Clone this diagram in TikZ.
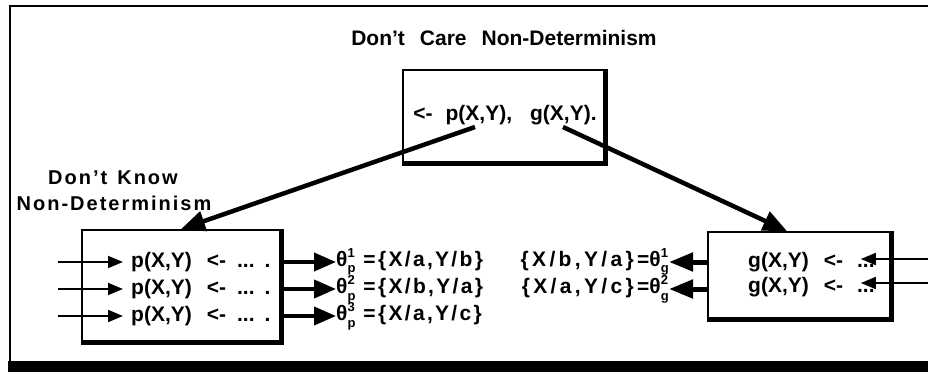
\documentclass[tikz,border=0pt]{standalone}
\usepackage{fontspec}
\setmainfont{Liberation Sans}
\usetikzlibrary{arrows.meta}
\newcommand{\thx}[2]{θ\makebox[0pt][l]{\raisebox{0.45em}{\fontsize{13}{13}\selectfont #1}}\raisebox{-0.3em}{\fontsize{13}{13}\selectfont #2}\hspace{1pt}}
\newcommand{\spc}[1]{{\addfontfeatures{LetterSpace=#1}}}
\begin{document}
\begin{tikzpicture}[x=1pt,y=-1pt,
 lab/.style={inner sep=0pt, font=\fontsize{20}{23}\selectfont\bfseries\addfontfeatures{LetterSpace=10}},
 ttl/.style={inner sep=0pt, font=\fontsize{21}{24}\selectfont\bfseries},
 code/.style={inner sep=0pt, font=\fontsize{21}{24}\selectfont\bfseries},
 box/.style={draw, line width=1.8pt, inner sep=0pt},
 shade/.style={line width=3.8pt},
 thinar/.style={line width=1.8pt, -{Triangle[length=15pt,width=12pt]}},
 midar/.style={line width=4pt, -{Triangle[length=22pt,width=18pt]}},
 bigar/.style={line width=5pt, -{Triangle[length=24pt,width=18pt]}},
 diagar/.style={line width=4.5pt, -{Triangle[length=24pt,width=20pt]}}
]
\useasboundingbox (0,0) rectangle (928,379);
% outer frame
\draw[line width=1.8pt] (928,6) -- (10,6) -- (10,366);
\fill (8,361) rectangle (928,372);

% title and labels
\node[ttl] (title) at (504,38) {Don't\hspace{15pt}Care\hspace{15pt}Non-Determinism};
\node[lab] (dk1) at (113,178) {Don't\hspace{10pt}Know};
\node[lab] (dk2) at (114,203) {Non-Determinism};

% top box
\node[box, minimum width=201pt, minimum height=92pt] (top) at (503.5,116) {};
\draw[shade] ([xshift=1.2pt]top.north east) -- ([xshift=1.2pt,yshift=-1.2pt]top.south east) -- ([yshift=-1.2pt]top.south west);
\node[code] (goal) at (505,115) {<-\hspace{13pt}p(X,Y),\hspace{18pt}g(X,Y).};
\coordinate (ps) at (475,127);
\coordinate (gs) at (563,127);

% left box
\node[box, minimum width=198pt, minimum height=111pt] (lbox) at (181,285.5) {};
\draw[shade] ([xshift=1.2pt]lbox.north east) -- ([xshift=1.2pt,yshift=-1.2pt]lbox.south east) -- ([yshift=-1.2pt]lbox.south west);
\node[code, anchor=west] (pr1) at (131,262) {p(X,Y)\hspace{15pt}<-\hspace{11pt}...\hspace{10pt}.};
\node[code, anchor=west] (pr2) at (131,289) {p(X,Y)\hspace{15pt}<-\hspace{11pt}...\hspace{10pt}.};
\node[code, anchor=west] (pr3) at (131,316) {p(X,Y)\hspace{15pt}<-\hspace{11pt}...\hspace{10pt}.};
\coordinate (in1) at (58,262);
\coordinate (in2) at (58,289);
\coordinate (in3) at (58,316);
\draw[thinar, shorten >=8pt] (in1) -- (pr1.west);
\draw[thinar, shorten >=8pt] (in2) -- (pr2.west);
\draw[thinar, shorten >=8pt] (in3) -- (pr3.west);

\node[code, anchor=west] (tp1) at (336,262) {\thx{1}{p}\hspace{7pt}{\addfontfeatures{LetterSpace=11}=\{X/a,Y/b\}}};
\node[code, anchor=west] (tp2) at (336,289) {\thx{2}{p}\hspace{7pt}{\addfontfeatures{LetterSpace=11}=\{X/b,Y/a\}}};
\node[code, anchor=west] (tp3) at (336,316) {\thx{3}{p}\hspace{7pt}{\addfontfeatures{LetterSpace=11}=\{X/a,Y/c\}}};
\draw[midar] (lbox.east |- tp1.west) -- (tp1.west);
\draw[midar] (lbox.east |- tp2.west) -- (tp2.west);
\draw[midar] (lbox.east |- tp3.west) -- (tp3.west);

% right box
\node[box, minimum width=182pt, minimum height=86pt] (rbox) at (799,275) {};
\draw[shade] ([xshift=1.2pt]rbox.north east) -- ([xshift=1.2pt,yshift=-1.2pt]rbox.south east) -- ([yshift=-1.2pt]rbox.south west);
\node[code, anchor=west] (gr1) at (748,262) {g(X,Y)\hspace{15pt}<-\hspace{14pt}...};
\node[code, anchor=west] (gr2) at (748,287) {g(X,Y)\hspace{15pt}<-\hspace{14pt}...};
\coordinate (rin1) at (928,259);
\coordinate (rin2) at (928,283);
\draw[thinar] (rin1) -- ([xshift=-14pt]gr1.east |- rin1);
\draw[thinar] (rin2) -- ([xshift=-14pt]gr2.east |- rin2);

\node[code, anchor=east] (tg1) at (669,262) {{\addfontfeatures{LetterSpace=16}\{X/b,Y/a\}=}\thx{1}{g}};
\node[code, anchor=east] (tg2) at (669,289) {{\addfontfeatures{LetterSpace=16}\{X/a,Y/c\}=}\thx{2}{g}};
\draw[bigar] (rbox.west |- tg1.east) -- (tg1.east);
\draw[bigar] (rbox.west |- tg2.east) -- (tg2.east);

% diagonal arrows
\draw[diagar] (ps) -- (lbox.north);
\draw[diagar] (gs) -- ([xshift=-12pt]rbox.north);
\end{tikzpicture}
\end{document}
